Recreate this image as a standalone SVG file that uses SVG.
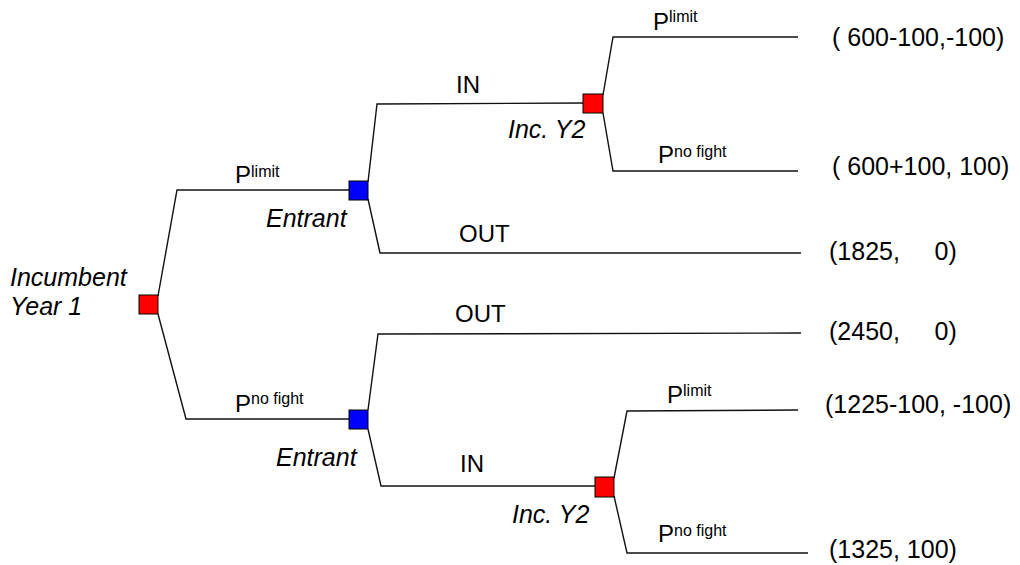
<svg xmlns="http://www.w3.org/2000/svg" width="1020" height="565" viewBox="0 0 1020 565">
<style>
text{font-family:"Liberation Sans",Arial,sans-serif;fill:#000}
.lbl{font-size:24px}
.it{font-size:25px;font-style:italic}
.P{font-size:24px}
.sup{font-size:16px}
.pay{font-size:25px}
.con path{fill:none;stroke:#111;stroke-width:1.4}
.red{fill:#ff0000;stroke:#000;stroke-width:1}
.blue{fill:#0000ff;stroke:#000;stroke-width:1}
</style>
<rect width="1020" height="565" fill="#fff"/>
<g id="connectors" class="con">
<path d="M158,296 L177,190 L349,190"/>
<path d="M158,314 L186,419 L349,419"/>
<path d="M368,182 L377,104 L583,103"/>
<path d="M368,199 L380,253 L801,253"/>
<path d="M603,95 L613,37 L798,37"/>
<path d="M603,113 L613,171 L798,171"/>
<path d="M368,410 L378,334 L801,333"/>
<path d="M368,429 L381,486 L595,486"/>
<path d="M614,478 L627,411 L798,410"/>
<path d="M614,496 L627,553 L808,553"/>
</g>
<g id="edge-labels">
<text x="235" y="183"><tspan class="P">P</tspan><tspan class="sup" dy="-6">limit</tspan></text>
<text x="235" y="412"><tspan class="P">P</tspan><tspan class="sup" dy="-8">no fight</tspan></text>
<text class="lbl" x="456" y="93">IN</text>
<text class="lbl" x="459" y="242">OUT</text>
<text class="lbl" x="455" y="322">OUT</text>
<text class="lbl" x="460" y="472">IN</text>
<text x="653" y="30"><tspan class="P">P</tspan><tspan class="sup" dy="-8">limit</tspan></text>
<text x="658" y="163"><tspan class="P">P</tspan><tspan class="sup" dy="-6">no fight</tspan></text>
<text x="667" y="403"><tspan class="P">P</tspan><tspan class="sup" dy="-7">limit</tspan></text>
<text x="658" y="542"><tspan class="P">P</tspan><tspan class="sup" dy="-6">no fight</tspan></text>
</g>
<g id="node-incumbent">
<rect class="red" x="139" y="295" width="19" height="19"/>
<text class="it" x="10" y="286">Incumbent</text>
<text class="it" x="10" y="315">Year 1</text>
</g>
<g id="node-entrant-1">
<rect class="blue" x="349" y="181" width="19" height="19"/>
<text class="it" x="266" y="227">Entrant</text>
</g>
<g id="node-entrant-2">
<rect class="blue" x="349" y="410" width="19" height="19"/>
<text class="it" x="276" y="466">Entrant</text>
</g>
<g id="node-inc-y2-a">
<rect class="red" x="583" y="94" width="20" height="19"/>
<text class="it" x="508" y="138">Inc. Y2</text>
</g>
<g id="node-inc-y2-b">
<rect class="red" x="595" y="477" width="19" height="20"/>
<text class="it" x="512" y="523">Inc. Y2</text>
</g>
<g id="payoffs">
<text class="pay" x="832" y="46">( 600-100,-100)</text>
<text class="pay" x="832" y="175">( 600+100, 100)</text>
<text class="pay" x="829" y="260" xml:space="preserve">(1825,     0)</text>
<text class="pay" x="829" y="340" xml:space="preserve">(2450,     0)</text>
<text class="pay" x="825" y="413">(1225-100, -100)</text>
<text class="pay" x="829" y="558">(1325, 100)</text>
</g>
</svg>
